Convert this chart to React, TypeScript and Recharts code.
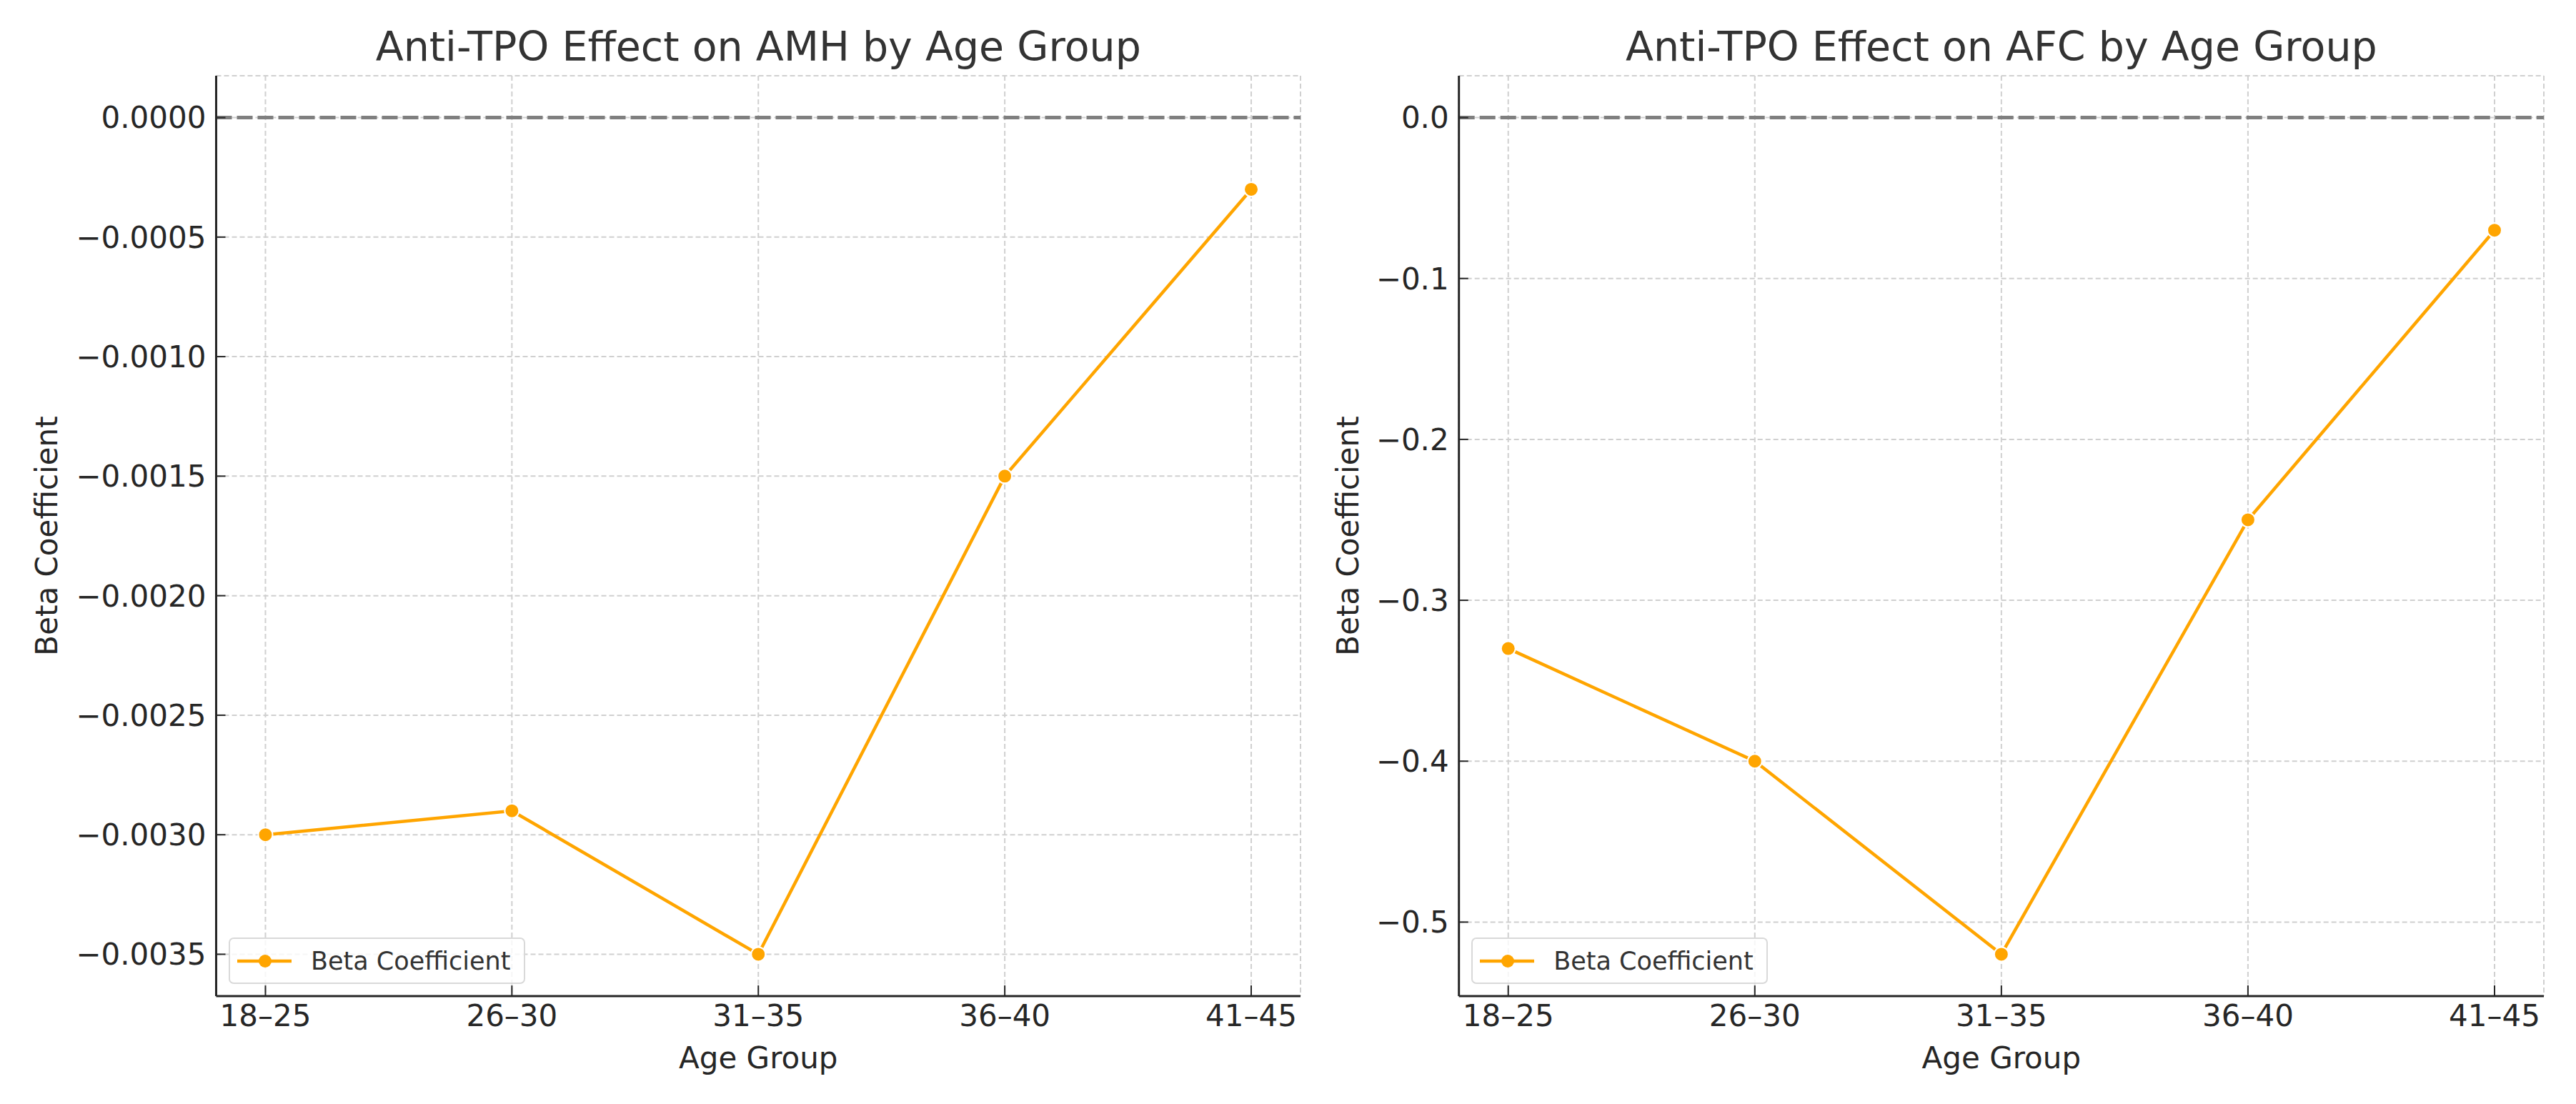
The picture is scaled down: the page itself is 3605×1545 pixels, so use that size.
import React from 'react'
import { LineChart, Line, XAxis, YAxis, CartesianGrid, ReferenceLine, Legend } from 'recharts'

const ageGroups = ['18–25', '26–30', '31–35', '36–40', '41–45']
const amhBeta = [-0.003, -0.0029, -0.0035, -0.0015, -0.0003]
const afcBeta = [-0.33, -0.4, -0.52, -0.25, -0.07]
const amhTicks = [0, -0.0005, -0.001, -0.0015, -0.002, -0.0025, -0.003, -0.0035]
const afcTicks = [0, -0.1, -0.2, -0.3, -0.4, -0.5]
const xTicks = [0, 1, 2, 3, 4]

const FONT = "'DejaVu Sans', sans-serif"
const ORANGE = '#FFA500'

const rows = ageGroups.map((g, i) => ({ idx: i, group: g, amh: amhBeta[i], afc: afcBeta[i] }))

function fmt(digits: number) {
    return (v: number) => (Math.abs(v) < 1e-12 ? (0).toFixed(digits) : (v < 0 ? '\u2212' : '') + Math.abs(v).toFixed(digits))
}

function LegendBox({ payload }: { payload?: Array<{ value: string }> }) {
    const name = payload?.[0]?.value ?? 'Beta Coefficient'
    return (
        <div
            style={{
                display: 'flex',
                alignItems: 'center',
                width: 415,
                height: 65,
                boxSizing: 'border-box',
                border: '2px solid #d9d9d9',
                borderRadius: 7,
                background: 'rgba(255,255,255,0.8)',
                paddingLeft: 10,
                fontFamily: FONT,
            }}
        >
            <svg width={76} height={24} style={{ display: 'block' }}>
                <line x1={0} y1={12} x2={76} y2={12} stroke={ORANGE} strokeWidth={4.5} />
                <circle cx={39} cy={12} r={9} fill={ORANGE} />
            </svg>
            <span style={{ marginLeft: 27, fontSize: 35, color: '#333', whiteSpace: 'nowrap' }}>{name}</span>
        </div>
    )
}

type PanelProps = {
    left: number
    width: number
    yWidth: number
    marginRight: number
    title: string
    dataKey: 'amh' | 'afc'
    domain: [number, number]
    ticks: number[]
    digits: number
    labelOffset: number
}

function Panel({ left, width, yWidth, marginRight, title, dataKey, domain, ticks, digits, labelOffset }: PanelProps) {
    const plotLeft = yWidth
    const plotWidth = width - yWidth - marginRight
    return (
        <div style={{ position: 'absolute', left, top: 0, width, height: 1545 }}>
            <div
                style={{
                    position: 'absolute',
                    left: plotLeft,
                    width: plotWidth,
                    top: 32,
                    textAlign: 'center',
                    fontSize: 57,
                    lineHeight: '66px',
                    color: '#333',
                    fontFamily: FONT,
                    whiteSpace: 'nowrap',
                }}
            >
                {title}
            </div>
            <LineChart width={width} height={1545} data={rows} margin={{ top: 106, right: marginRight, bottom: 41, left: 0 }}>
                <CartesianGrid stroke="#d0d0d0" strokeWidth={2} strokeDasharray="7 4" />
                <XAxis
                    dataKey="idx"
                    type="number"
                    domain={[-0.2, 4.2]}
                    ticks={xTicks}
                    interval={0}
                    allowDataOverflow
                    height={110}
                    tickFormatter={(i: number) => ageGroups[i]}
                    tick={{ fill: '#262626', fontSize: 42, fontFamily: FONT }}
                    tickSize={-15}
                    tickMargin={27}
                    tickLine={{ stroke: '#262626', strokeWidth: 2 }}
                    axisLine={{ stroke: '#262626', strokeWidth: 3 }}
                    label={{ value: 'Age Group', position: 'insideBottom', offset: 9, fill: '#262626', fontSize: 42, fontFamily: FONT }}
                />
                <YAxis
                    type="number"
                    domain={domain}
                    ticks={ticks}
                    interval={0}
                    allowDataOverflow
                    width={yWidth}
                    tickFormatter={fmt(digits)}
                    tick={{ fill: '#262626', fontSize: 42, fontFamily: FONT }}
                    tickSize={-13}
                    tickMargin={27}
                    tickLine={{ stroke: '#262626', strokeWidth: 2 }}
                    axisLine={{ stroke: '#262626', strokeWidth: 3 }}
                    label={{
                        value: 'Beta Coefficient',
                        angle: -90,
                        position: 'insideLeft',
                        offset: labelOffset,
                        fill: '#262626',
                        fontSize: 42,
                        fontFamily: FONT,
                        style: { textAnchor: 'middle' },
                    }}
                />
                <ReferenceLine y={0} stroke="#7f7f7f" strokeWidth={5} strokeDasharray="22 7" />
                <Line
                    dataKey={dataKey}
                    name="Beta Coefficient"
                    stroke={ORANGE}
                    strokeWidth={4.5}
                    dot={{ r: 10, fill: ORANGE, stroke: '#fff', strokeWidth: 2 }}
                    isAnimationActive={false}
                />
                <Legend
                    layout="horizontal"
                    verticalAlign="middle"
                    align="center"
                    content={<LegendBox />}
                    wrapperStyle={{ left: plotLeft + 17.5, top: 1312, width: 'auto', height: 'auto' }}
                />
            </LineChart>
        </div>
    )
}

export default function App() {
    return (
        <div style={{ position: 'absolute', left: 0, top: 0, width: 3605, height: 1545, background: '#fff', fontFamily: FONT }}>
            <Panel
                left={0}
                width={1830}
                yWidth={302.5}
                marginRight={10}
                title="Anti-TPO Effect on AMH by Age Group"
                dataKey="amh"
                domain={[-0.003675, 0.000175]}
                ticks={amhTicks}
                digits={4}
                labelOffset={65}
            />
            <Panel
                left={1830}
                width={1775}
                yWidth={211.7}
                marginRight={45}
                title="Anti-TPO Effect on AFC by Age Group"
                dataKey="afc"
                domain={[-0.546, 0.026]}
                ticks={afcTicks}
                digits={1}
                labelOffset={56}
            />
        </div>
    )
}
